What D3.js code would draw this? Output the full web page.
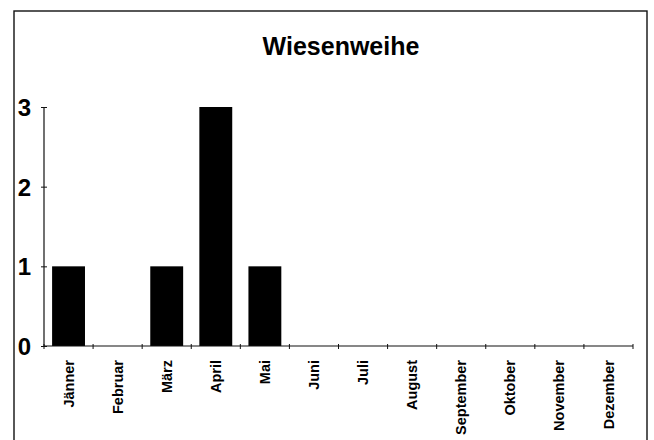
<!DOCTYPE html>
<html>
<head>
<meta charset="utf-8">
<script src="https://cdn.jsdelivr.net/npm/d3@7"></script>
<style>
  html, body { margin: 0; padding: 0; background: #fff; }
  svg { display: block; }
  text { font-family: "Liberation Sans", Arial, sans-serif; fill: #000; }
</style>
</head>
<body>
<script>
const months = ["Jänner", "Februar", "März", "April", "Mai", "Juni", "Juli", "August", "September", "Oktober", "November", "Dezember"];
const counts = [1, 0, 1, 3, 1, 0, 0, 0, 0, 0, 0, 0];
const yTicks = [0, 1, 2, 3];
const title = "Wiesenweihe";

const W = 654, H = 440;
const svg = d3.select("body").append("svg").attr("width", W).attr("height", H);

// frame
svg.append("rect")
  .attr("x", 14).attr("y", 11)
  .attr("width", 633).attr("height", 440)
  .attr("fill", "none").attr("stroke", "#111").attr("stroke-width", 1.4);

const x0 = 44, x1 = 633, yb = 346, yt = 107;

const xAxisScale = d3.scaleBand().domain(months).range([x0, x1]).padding(0);
const xBar = d3.scaleBand().domain(months).range([x0, x1]).paddingInner(0.33).paddingOuter(0.165);
const y = d3.scaleLinear().domain([0, 3]).range([yb, yt]);

// title
svg.append("text")
  .attr("x", 341).attr("y", 55)
  .attr("text-anchor", "middle")
  .attr("font-size", 25)
  .attr("font-weight", "bold")
  .text(title);

// bars
svg.append("g").selectAll("rect")
  .data(months.map((m, i) => ({ m, v: counts[i] })).filter(d => d.v > 0))
  .join("rect")
  .attr("x", d => xBar(d.m))
  .attr("width", xBar.bandwidth())
  .attr("y", d => y(d.v))
  .attr("height", d => y(0) - y(d.v))
  .attr("fill", "#000");

// y axis
const yAxis = svg.append("g").attr("transform", `translate(${x0},0)`)
  .call(d3.axisLeft(y).tickValues(yTicks).tickFormat(d3.format("d")).tickSize(3).tickPadding(10));
yAxis.select(".domain").attr("stroke", "#111").attr("stroke-width", 1.2).attr("d", `M0,${yt}V${yb}`);
yAxis.selectAll(".tick line").attr("x1", -3).attr("x2", 3).attr("stroke", "#111");
yAxis.selectAll(".tick text")
  .attr("font-size", 24).attr("font-weight", "bold")
  .attr("font-family", "Liberation Sans, Arial, sans-serif")
  .attr("fill", "#000").attr("dy", "0.36em");

// x axis
const xAxis = svg.append("g").attr("transform", `translate(0,${yb})`)
  .call(d3.axisBottom(xAxisScale).tickSize(0).tickPadding(0));
xAxis.select(".domain").attr("stroke", "#111").attr("stroke-width", 1.2).attr("d", `M${x0},0H${x1}`);
xAxis.selectAll(".tick text")
  .attr("font-size", 14.5).attr("font-weight", "bold")
  .attr("font-family", "Liberation Sans, Arial, sans-serif")
  .attr("fill", "#000")
  .attr("transform", "rotate(-90)")
  .attr("text-anchor", "end")
  .attr("x", -14).attr("y", 0).attr("dy", "0.35em");

// boundary ticks on x axis
const bounds = months.map(m => xAxisScale(m)).concat([x1]);
svg.append("g").selectAll("line")
  .data(bounds)
  .join("line")
  .attr("x1", d => d).attr("x2", d => d)
  .attr("y1", yb - 2).attr("y2", yb + 3)
  .attr("stroke", "#111").attr("stroke-width", 1);
</script>
</body>
</html>
